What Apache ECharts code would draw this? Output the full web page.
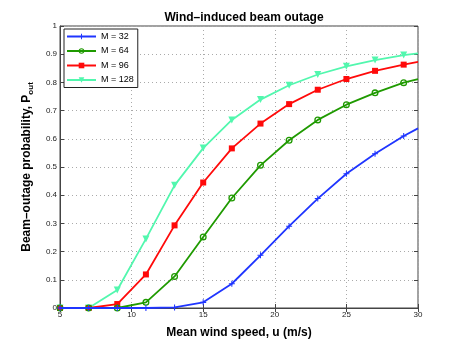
<!DOCTYPE html>
<html><head><meta charset="utf-8">
<script src="https://cdn.jsdelivr.net/npm/echarts@6/dist/echarts.min.js"></script>
<style>html,body{margin:0;padding:0;background:#fff}#c{width:461px;height:346px}</style>
</head><body><div id="c"></div>
<script>
var windSpeed = [5, 7, 9, 11, 13, 15, 17, 19, 21, 23, 25, 27, 29, 30];
var m32  = [0, 0, 0, 0, 0.002, 0.02, 0.086, 0.187, 0.290, 0.388, 0.476, 0.547, 0.610, 0.637];
var m64  = [0, 0, 0, 0.020, 0.112, 0.252, 0.390, 0.506, 0.595, 0.667, 0.721, 0.763, 0.799, 0.812];
var m96  = [0, 0, 0.014, 0.119, 0.293, 0.445, 0.566, 0.654, 0.723, 0.774, 0.812, 0.841, 0.863, 0.873];
var m128 = [0, 0, 0.064, 0.245, 0.435, 0.567, 0.667, 0.739, 0.790, 0.828, 0.857, 0.879, 0.897, 0.903];
var seriesNames = ['M = 32', 'M = 64', 'M = 96', 'M = 128'];
var xTicks = [5, 10, 15, 20, 25, 30];

var FONT = 'Liberation Sans, Arial, sans-serif';
function pts(arr) { return windSpeed.map(function (x, i) { return [x, arr[i]]; }); }
var lastIdx = windSpeed.length - 1;
function sz(s) { return function (v, p) { return p.dataIndex === lastIdx ? 0 : s; }; }

var plusPath = 'path://M3.3,0H4.7V3.3H8V4.7H4.7V8H3.3V4.7H0V3.3H3.3Z';
var ringPath = 'path://M4,0A4,4,0,1,1,4,8A4,4,0,1,1,4,0ZM4,1.5A2.5,2.5,0,1,0,4,6.5A2.5,2.5,0,1,0,4,1.5Z';
var cols = ['#1f35ff', '#1f9a00', '#ff0a0a', '#52f7ae'];

var chart = echarts.init(document.getElementById('c'));
chart.setOption({
  animation: false,
  textStyle: { fontFamily: FONT },
  title: {
    text: 'Wind\u2013induced beam outage', left: 239, textAlign: 'center', top: 7,
    textStyle: { fontSize: 12, fontWeight: 'bold', color: '#000', fontFamily: FONT }
  },
  grid: { left: 60, right: 43, top: 26, bottom: 38, show: true, borderColor: '#444', borderWidth: 1 },
  legend: {
    orient: 'vertical', left: 64, top: 29, itemWidth: 29, itemHeight: 7, itemGap: 5.5,
    padding: [3, 4, 3, 2], backgroundColor: '#fff', borderColor: '#222', borderWidth: 1,
    textStyle: { fontSize: 9, color: '#000', fontFamily: FONT }, data: seriesNames
  },
  xAxis: [{
    type: 'value', min: 5, max: 30, interval: 5,
    name: 'Mean wind speed, u (m/s)', nameLocation: 'middle', nameGap: 19,
    nameTextStyle: { fontSize: 12, fontWeight: 'bold', color: '#000' },
    axisLine: { lineStyle: { color: '#444' } },
    axisTick: { inside: true, length: 4, lineStyle: { color: '#444' } },
    axisLabel: { fontSize: 8, color: '#222', margin: 3, customValues: xTicks },
    splitLine: { show: true, lineStyle: { type: [1, 3], color: '#aaa' } }
  }, {
    type: 'value', position: 'top', min: 5, max: 30, interval: 5,
    axisLine: { show: false }, axisLabel: { show: false },
    axisTick: { inside: true, length: 4, lineStyle: { color: '#444' } }, splitLine: { show: false }
  }],
  yAxis: [{
    type: 'value', min: 0, max: 1, interval: 0.1,
    name: '{a|Beam\u2013outage probability, P}{s|out}', nameLocation: 'middle', nameGap: 18,
    nameTextStyle: {
      fontSize: 12, fontWeight: 'bold', color: '#000',
      rich: { a: { fontSize: 12, fontWeight: 'bold', fontFamily: FONT }, s: { fontSize: 8, fontWeight: 'bold', fontFamily: FONT, verticalAlign: 'bottom', padding: [8, 0, 0, 0] } }
    },
    axisLine: { lineStyle: { color: '#444' } },
    axisTick: { inside: true, length: 4, lineStyle: { color: '#444' } },
    axisLabel: { fontSize: 8, color: '#222', margin: 3 },
    splitLine: { show: true, lineStyle: { type: [1, 3], color: '#aaa' } }
  }, {
    type: 'value', position: 'right', min: 0, max: 1, interval: 0.1,
    axisLine: { show: false }, axisLabel: { show: false },
    axisTick: { inside: true, length: 4, lineStyle: { color: '#444' } }, splitLine: { show: false }
  }],
  series: [
    { name: seriesNames[0], type: 'line', data: pts(m32), symbol: plusPath, symbolSize: sz(6),
      lineStyle: { width: 1.8, color: cols[0] }, itemStyle: { color: cols[0] }, z: 4 },
    { name: seriesNames[1], type: 'line', data: pts(m64), symbol: ringPath, symbolSize: sz(7),
      lineStyle: { width: 1.8, color: cols[1] }, itemStyle: { color: cols[1] }, z: 3 },
    { name: seriesNames[2], type: 'line', data: pts(m96), symbol: 'rect', symbolSize: sz(6),
      lineStyle: { width: 1.8, color: cols[2] }, itemStyle: { color: cols[2] }, z: 2 },
    { name: seriesNames[3], type: 'line', data: pts(m128), symbol: 'triangle', symbolRotate: 180, symbolSize: sz(7),
      lineStyle: { width: 1.8, color: cols[3] }, itemStyle: { color: cols[3] }, z: 1 }
  ]
});
</script></body></html>
